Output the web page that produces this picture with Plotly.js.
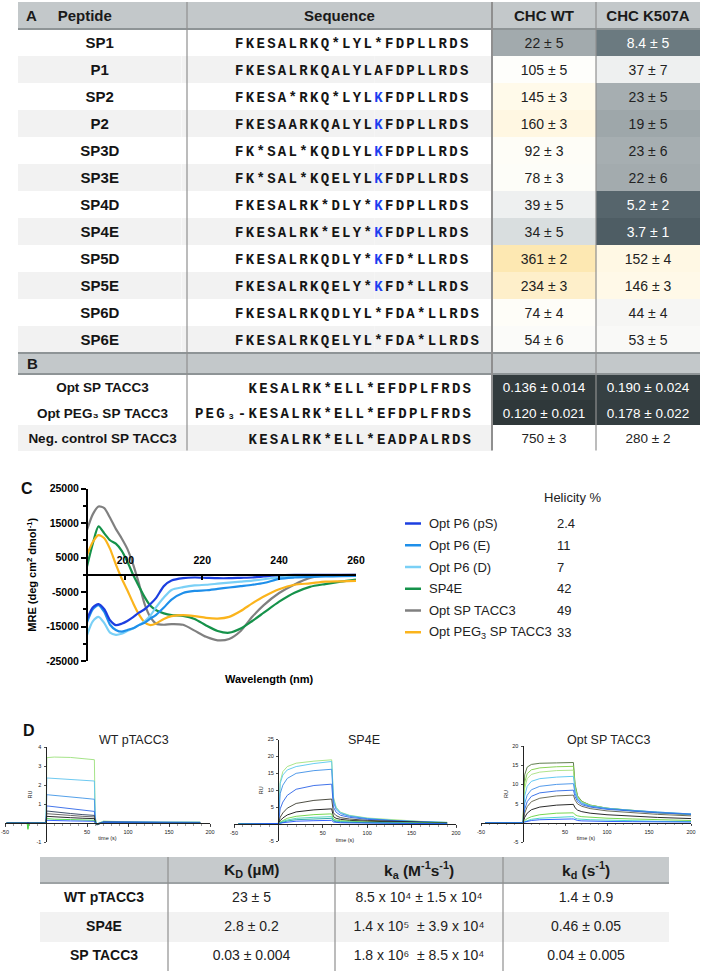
<!DOCTYPE html>
<html>
<head>
<meta charset="utf-8">
<script src="https://cdn.plot.ly/plotly-3.0.1.min.js"></script>
<style>
  html, body { margin:0; padding:0; background:#ffffff; }
  #chart { width:702px; height:975px; }
  text[style*="Mono"] { letter-spacing: 2.306px; }
</style>
</head>
<body>
<div id="chart"></div>
<script>
// ======================= DATA =======================
// ---- Panel A ----
const tableAHeaders = ['Peptide', 'Sequence', 'CHC WT', 'CHC K507A'];
const peptides = ['SP1','P1','SP2','P2','SP3D','SP3E','SP4D','SP4E','SP5D','SP5E','SP6D','SP6E'];
// [K] marks the residue printed in blue
const sequences = [
  'FKESALRKQ*LYL*FDPLLRDS',
  'FKESALRKQALYLAFDPLLRDS',
  'FKESA*RKQ*LYL[K]FDPLLRDS',
  'FKESAARKQALYL[K]FDPLLRDS',
  'FK*SAL*KQDLYL[K]FDPLLRDS',
  'FK*SAL*KQELYL[K]FDPLLRDS',
  'FKESALRK*DLY*[K]FDPLLRDS',
  'FKESALRK*ELY*[K]FDPLLRDS',
  'FKESALRKQDLY*[K]FD*LLRDS',
  'FKESALRKQELY*[K]FD*LLRDS',
  'FKESALRKQDLYL*FDA*LLRDS',
  'FKESALRKQELYL*FDA*LLRDS'
];
const wtMean   = [22, 105, 145, 160, 92, 78, 39, 34, 361, 234, 74, 54];
const wtSD     = [5, 5, 3, 3, 3, 3, 5, 5, 2, 3, 4, 6];
const k507Mean = [8.4, 37, 23, 19, 23, 22, 5.2, 3.7, 152, 146, 44, 53];
const k507SD   = [5, 7, 5, 5, 6, 6, 2, 1, 4, 3, 4, 5];

// ---- Panel B ----
const panelBLabel = 'B';
const optPeptides  = ['Opt SP TACC3', 'Opt PEG₃ SP TACC3', 'Neg. control SP TACC3'];
const optSequences = ['KESALRK*ELL*EFDPLFRDS', 'PEG₃-KESALRK*ELL*EFDPLFRDS', 'KESALRK*ELL*EADPALRDS'];
const optWtMean = ['0.136', '0.120', '750'];
const optWtSD   = ['0.014', '0.021', '3'];
const optKMean  = ['0.190', '0.178', '280'];
const optKSD    = ['0.024', '0.022', '2'];

// ---- Panel C (CD spectra) ----
const cdNames  = ['Opt P6 (pS)', 'Opt P6 (E)', 'Opt P6 (D)', 'SP4E', 'Opt SP TACC3', 'Opt PEG<sub>3</sub> SP TACC3'];
const helicity = ['2.4', '11', '7', '42', '49', '33'];
const wavelength = [190,191.5,193,194.5,196,197.5,199,200.5,202,203.5,205,206.5,208,210,212,215,218,221,224,227,230,233,236,240,244,248,252,256,260];
const mreOptP6pS = [-12900,-9500,-8500,-10000,-13200,-14600,-14200,-13400,-12300,-11000,-10000,-8500,-6700,-3300,-1700,-1000,-800,-900,-1000,-1000,-900,-800,-500,-100,0,0,0,0,0];
const mreOptP6E  = [-13800,-10000,-8800,-10800,-14500,-16000,-16500,-16000,-15500,-14600,-13900,-12700,-11600,-9500,-7200,-5300,-4700,-4500,-4100,-3700,-3300,-2900,-2400,-1200,-800,-600,-500,-400,-300];
const mreOptP6D  = [-17500,-13500,-12200,-14000,-16800,-17400,-17100,-16300,-15600,-14600,-13500,-11800,-9400,-6600,-4400,-3600,-3100,-2900,-2600,-2300,-2000,-1700,-1300,-700,-400,-300,-300,-300,-300];
const mreSP4E    = [2400,9000,14000,12000,10000,9000,7000,3800,0,-3300,-6500,-9000,-10300,-11200,-11700,-11900,-12800,-14700,-16300,-16800,-15600,-13400,-11000,-7800,-5200,-3500,-2700,-2000,-1400];
const mreOptSP   = [13000,17500,19800,19300,16500,13300,10600,7500,3000,-2500,-8500,-12300,-14200,-14500,-14300,-14500,-16200,-18000,-19000,-18600,-16300,-12200,-8800,-5300,-2800,-900,-200,-100,0];
const mreOptPEG  = [5700,9500,11500,10600,7500,3000,-1000,-4500,-8200,-11500,-13800,-14600,-14100,-12800,-12000,-11700,-12000,-12500,-12700,-12200,-10500,-8300,-6300,-4200,-2900,-2500,-2000,-1900,-1800];

// ---- Panel D (SPR sensorgrams, RU vs time s) ----
const sprTitles = ['WT pTACC3', 'SP4E', 'Opt SP TACC3'];
const timeWT = [-48,-23,-22,-21,-1,0,1,10,30,45,59,60,62,70,100,140,188];
const ruWT = [
  [0,0,-0.35,0,0,0,3.44,3.47,3.45,3.40,3.33,0.30,-0.05,0.10,0.06,0.05,0.05],
  [0,0,0,0,0,0,2.37,2.35,2.30,2.25,2.21,0.20,-0.05,0.08,0.05,0.04,0.04],
  [0,0,0,0,0,0,1.49,1.46,1.38,1.31,1.25,0.12,-0.05,0.06,0.05,0.04,0.03],
  [0,0,0,0,0,0,0.90,0.85,0.76,0.67,0.61,0.08,-0.10,0.05,0.04,0.04,0.03],
  [0,0,0,0,0,0,0.63,0.58,0.50,0.44,0.40,0.05,-0.10,0.04,0.03,0.03,0.02],
  [0,0,0,0,0,0,0.49,0.45,0.40,0.35,0.32,0.04,-0.08,0.03,0.03,0.02,0.02],
  [0,0,0,0,0,0,0.35,0.32,0.28,0.25,0.23,0.03,-0.06,0.03,0.02,0.02,0.02],
  [0,0,-0.30,0,0,0,0.23,0.20,0.18,0.16,0.14,0.02,-0.05,0.02,0.02,0.02,0.01],
  [0,0,0,0,0,0,0.14,0.12,0.11,0.10,0.09,0.01,-0.04,0.02,0.01,0.01,0.01]
];
const timeSP4E = [-45,-2,0,2,5,10,20,40,58,60,62,65,70,80,100,130,160,190];
const ruSP4E = [
  [0,0,0,12.5,15.5,17.0,18.0,18.6,19.0,19.0,8.0,5.0,3.5,2.6,1.8,1.2,0.8,0.5],
  [0,0,0,12.0,14.5,16.0,17.0,17.9,18.5,18.5,7.5,4.8,3.4,2.5,1.7,1.1,0.75,0.5],
  [0,0,0,9.0,11.5,13.5,15.0,15.8,16.2,16.2,6.5,4.3,3.1,2.3,1.6,1.0,0.7,0.45],
  [0,0,0,4.5,6.5,8.5,10.3,11.4,11.8,11.8,5.0,3.5,2.6,2.0,1.4,0.9,0.6,0.4],
  [0,0,0,2.0,3.3,4.7,6.1,7.0,7.4,7.4,3.3,2.5,1.9,1.5,1.1,0.8,0.55,0.35],
  [0,0,0,1.0,1.8,2.7,3.6,4.2,4.5,4.5,2.2,1.7,1.4,1.1,0.85,0.6,0.45,0.3],
  [0,0,0,0.6,1.1,1.7,2.3,2.8,3.0,3.0,1.5,1.2,1.0,0.8,0.6,0.45,0.35,0.25],
  [0,0,0,0.4,0.8,1.2,1.7,2.0,2.2,2.2,1.1,0.9,0.75,0.6,0.45,0.35,0.25,0.2],
  [0,0,0,0.3,0.6,0.9,1.3,1.6,1.7,1.7,0.9,0.7,0.6,0.5,0.4,0.3,0.2,0.15],
  [0,0,0,0.2,0.4,0.6,0.85,1.0,1.1,1.1,0.6,0.5,0.4,0.35,0.3,0.2,0.15,0.1]
];
const timeOpt = [-45,-2,0,2,5,10,20,40,58,60,62,65,70,80,100,130,160,200];
const ruOpt = [
  [0,0,0,12.5,14.5,15.2,15.5,15.6,15.7,15.7,10.0,7.0,5.6,4.6,3.8,3.1,2.6,2.1],
  [0,0,0,10.5,12.8,13.8,14.3,14.6,14.7,14.7,9.5,6.8,5.5,4.6,3.8,3.2,2.7,2.2],
  [0,0,0,9.0,11.5,12.6,13.2,13.6,13.7,13.7,9.0,6.6,5.4,4.5,3.8,3.2,2.7,2.2],
  [0,0,0,7.0,9.5,10.8,11.5,11.9,12.1,12.1,8.3,6.3,5.2,4.4,3.8,3.2,2.8,2.3],
  [0,0,0,5.0,7.2,8.6,9.5,10.0,10.2,10.2,7.6,6.0,5.0,4.3,3.7,3.2,2.8,2.3],
  [0,0,0,3.5,5.5,6.9,7.8,8.3,8.5,8.5,6.8,5.5,4.7,4.1,3.5,3.0,2.6,2.2],
  [0,0,0,2.5,4.2,5.5,6.4,7.0,7.2,7.2,5.9,4.9,4.3,3.7,3.1,2.6,2.2,1.8],
  [0,0,0,1.4,2.5,3.4,4.1,4.6,4.8,4.8,3.9,3.3,2.9,2.5,2.1,1.7,1.4,1.1],
  [0,0,0,0.6,1.1,1.6,2.1,2.5,2.6,2.6,2.1,1.8,1.6,1.4,1.2,1.0,0.8,0.6],
  [0,0,0,0.3,0.6,0.9,1.2,1.5,1.6,1.6,1.2,1.0,0.9,0.8,0.7,0.5,0.4,0.3],
  [0,0,0,0.2,0.4,0.6,0.8,1.0,1.0,1.0,0.8,0.6,0.5,0.4,0.35,0.3,0.25,0.2]
];

// ---- Kinetics table ----
const kinHeaders = ['K<sub>D</sub> (µM)', 'k<sub>a</sub> (M<sup>-1</sup>s<sup>-1</sup>)', 'k<sub>d</sub> (s<sup>-1</sup>)'];
const sprPeptides = ['WT pTACC3', 'SP4E', 'SP TACC3'];
const kdMean   = ['23', '2.8', '0.03'];
const kdSD     = ['5', '0.2', '0.004'];
const kaMean   = ['8.5 x 10⁴', '1.4 x 10⁵ ', '1.8 x 10⁶ '];
const kaSD     = ['1.5 x 10⁴', '3.9 x 10⁴', '8.5 x 10⁴'];
const koffMean = ['1.4', '0.46', '0.04'];
const koffSD   = ['0.9', '0.05', '0.005'];

// ======================= STYLE =======================
const W = 702, H = 975;
const px = v => v / W;
const py = v => 1 - v / H;
const SANS = 'Liberation Sans, Arial, sans-serif';
const MONO = 'Liberation Mono, Courier New, monospace';
const HEAD_FILL = '#c3c8ca';
const KHEAD_FILL = '#c6cacc';
const STRIPE = ['#ffffff', '#f2f2f2'];
const RULE = '#8e9496';
const SEP = '#8f8f8f';
const INK = '#151515';
const VAL_INK = '#222';
const BLUE_K = '#1d3ef0';
const wtFill   = ['#a2aaad','#fefefb','#fffaea','#fff7e2','#fefdf7','#fdfdf8','#eef0f0','#d9dedf','#fde8b2','#feefca','#fefdf8','#fbfbf9'];
const k507Fill = ['#6b7a80','#eef0f0','#a6aeb1','#9ea7aa','#a6aeb1','#a3abae','#56656c','#4e5d64','#fff8e4','#fff9e8','#f6f6f4','#f9f9f7'];
const k507Text = ['#ffffff',VAL_INK,VAL_INK,VAL_INK,VAL_INK,VAL_INK,'#ffffff','#ffffff',VAL_INK,VAL_INK,VAL_INK,VAL_INK];
const optWtFill = ['#333c3e', '#2f383a', '#ffffff'];
const optKFill  = ['#364043', '#343e41', '#ffffff'];
const optValText = ['#ffffff', '#ffffff', VAL_INK];
const optStripe = ['#ffffff', '#ffffff', '#f2f2f2'];
const cdColors = ['#1c3fe0', '#1e8fea', '#7ad0f6', '#15924a', '#808080', '#fbb41c'];
const cdOrder = [4, 3, 5, 2, 1, 0];
const wtColors   = ['#9be07a','#5ec3ee','#3f95e6','#2f66e8','#2b3d5e','#5a5a5a','#141414','#3ed43e','#1f52ff'];
const sp4eColors = ['#a3e27c','#56c7ee','#3d8fe6','#2d63e6','#3b3b2f','#101010','#6ad43e','#42d1b5','#21a0a0','#1f52ff'];
const optColors  = ['#4f6f3a','#7fcf45','#a7e07f','#52c3f0','#3f8fe8','#2a68e6','#5e5e48','#141414','#66d23c','#39cfc4','#1f52ff'];

// geometry (px)
const A_TOP = 2, A_HEAD = 27, A_ROW = 27;
const A_BODY = A_TOP + A_HEAD;                           // 29
const B_TOP = A_BODY + A_ROW * peptides.length;          // 353
const B_HEAD = 21, B_ROW = 25.5;
const B_BODY = B_TOP + B_HEAD;                           // 374
const T_LEFT = 18, T_RIGHT = 700, T_COLS = [169, 305, 104, 104];
const K_TOP = 857, K_HEAD = 26, K_ROW = 29.3, K_LEFT = 40, K_RIGHT = 669, K_COLS = [128, 167, 168, 166];
// sequence column of table A split in three monospace sub-columns so the 14th residue can be coloured
const SEQ_SPLIT = 13, SEQ_LEAD = 5, SEQ_TAIL = 10;
const SEQ_B = 181.5;                                      // left edge of the sequence text block
const SEQ_PITCH = (T_LEFT + T_COLS[0] + T_COLS[1] - SEQ_B) / (SEQ_LEAD + SEQ_SPLIT + 1 + SEQ_TAIL);
const A_COLS = [SEQ_B - T_LEFT, SEQ_PITCH * (SEQ_LEAD + SEQ_SPLIT), SEQ_PITCH, SEQ_PITCH * SEQ_TAIL, T_COLS[2], T_COLS[3]];

const NBSP = '\u00a0';
const nb = s => String(s).replace(/ /g, NBSP);
const pm = (m, s) => nb(m + ' ± ' + s);
const same = (arr, v) => arr.map(() => v);

// build a table trace whose first data row is carried by the table header (no empty header cells)
function rowsTable(o) {
  const first = a => a.map(c => c[0]);
  const rest = a => a.map(c => c.slice(1));
  const font = (colors) => ({ family: o.family, size: o.size, weight: o.weight, color: colors });
  return {
    type: 'table',
    domain: { x: [px(o.x0), px(o.x1)], y: [py(o.top + o.rowH * o.values[0].length + 6), py(o.top)] },
    columnwidth: o.widths,
    header: { values: first(o.values), align: o.align, height: o.rowH, fill: { color: first(o.fills) },
              line: { width: 0, color: '#ffffff' }, font: font(first(o.colors)) },
    cells:  { values: rest(o.values), align: o.align, height: o.rowH, fill: { color: rest(o.fills) },
              line: { width: 0, color: '#ffffff' }, font: font(rest(o.colors)) }
  };
}

// ======================= TRACES =======================
const traces = [];

// Table A header row
traces.push({
  type: 'table',
  domain: { x: [px(T_LEFT), px(T_RIGHT)], y: [py(A_TOP + A_HEAD + 4), py(A_TOP)] },
  columnwidth: T_COLS,
  header: {
    values: ['A' + NBSP.repeat(5) + nb(tableAHeaders[0]), nb(tableAHeaders[1]), nb(tableAHeaders[2]), nb(tableAHeaders[3])],
    align: ['left', 'center', 'center', 'center'],
    height: A_HEAD,
    fill: { color: HEAD_FILL },
    line: { width: 0, color: HEAD_FILL },
    font: { family: SANS, size: 15, weight: 'bold', color: '#1a1a1a' }
  },
  cells: { values: [[], [], [], []] }
});

// Table A body
const seqFlat = sequences.map(s => s.replace('[K]', 'K'));
const blueRow = sequences.map(s => s.indexOf('[K]') >= 0);
const seqPre = seqFlat.map(s => NBSP.repeat(SEQ_LEAD) + s.slice(0, SEQ_SPLIT));
const seqMid = seqFlat.map(s => s.charAt(SEQ_SPLIT));
const seqPost = seqFlat.map(s => { const t = s.slice(SEQ_SPLIT + 1); return t + NBSP.repeat(Math.max(0, SEQ_TAIL - t.length)); });
const stripeA = peptides.map((_, i) => STRIPE[i % 2]);
traces.push(rowsTable({
  x0: T_LEFT, x1: T_RIGHT, top: A_BODY, rowH: A_ROW, widths: A_COLS,
  values: [peptides.map(nb), seqPre, seqMid, seqPost,
           wtMean.map((m, i) => pm(m, wtSD[i])), k507Mean.map((m, i) => pm(m, k507SD[i]))],
  fills: [stripeA, stripeA, stripeA, stripeA, wtFill, k507Fill],
  colors: [same(peptides, INK), same(peptides, INK), blueRow.map(b => b ? BLUE_K : INK), same(peptides, INK),
           same(peptides, VAL_INK), k507Text],
  family: [SANS, MONO, MONO, MONO, SANS, SANS],
  size: [15, 14, 14, 14, 14, 14],
  weight: ['bold', 'bold', 'bold', 'bold', 'normal', 'normal'],
  align: ['center', 'center', 'center', 'center', 'center', 'center']
}));

// Table B body
traces.push(rowsTable({
  x0: T_LEFT, x1: T_RIGHT, top: B_BODY, rowH: B_ROW, widths: T_COLS,
  values: [optPeptides.map(nb), optSequences.map(s => s + NBSP),
           optWtMean.map((m, i) => pm(m, optWtSD[i])), optKMean.map((m, i) => pm(m, optKSD[i]))],
  fills: [optStripe, optStripe, optWtFill, optKFill],
  colors: [same(optPeptides, INK), same(optPeptides, INK), optValText, optValText],
  family: [SANS, MONO, SANS, SANS],
  size: [13.5, 14, 13.5, 13.5],
  weight: ['bold', 'bold', 'normal', 'normal'],
  align: ['center', 'right', 'center', 'center']
}));

// Kinetics table body
const stripeK = sprPeptides.map((_, i) => STRIPE[i % 2]);
traces.push(rowsTable({
  x0: K_LEFT, x1: K_RIGHT, top: K_TOP + K_HEAD, rowH: K_ROW, widths: K_COLS,
  values: [sprPeptides.map(nb), kdMean.map((m, i) => pm(m, kdSD[i])), kaMean.map((m, i) => pm(m, kaSD[i])), koffMean.map((m, i) => pm(m, koffSD[i]))],
  fills: [stripeK, stripeK, stripeK, stripeK],
  colors: [same(sprPeptides, INK), same(sprPeptides, VAL_INK), same(sprPeptides, VAL_INK), same(sprPeptides, VAL_INK)],
  family: [SANS, SANS, SANS, SANS],
  size: [14, 14, 14, 14],
  weight: ['bold', 'normal', 'normal', 'normal'],
  align: ['center', 'center', 'center', 'center']
}));

// Panel C curves
const cdSeries = [mreOptP6pS, mreOptP6E, mreOptP6D, mreSP4E, mreOptSP, mreOptPEG];
cdOrder.forEach(k => {
  traces.push({
    type: 'scatter', mode: 'lines', x: wavelength, y: cdSeries[k], name: cdNames[k],
    xaxis: 'x', yaxis: 'y',
    line: { color: cdColors[k], width: 2.2, shape: 'spline', smoothing: 0.7 },
    hoverinfo: 'skip'
  });
});

// Panel D curves
function addSpr(t, curves, colors, ax) {
  curves.forEach((c, i) => traces.push({
    type: 'scatter', mode: 'lines', x: t, y: c, xaxis: 'x' + ax, yaxis: 'y' + ax,
    line: { color: colors[i], width: 0.9 }, hoverinfo: 'skip'
  }));
}
addSpr(timeWT, ruWT, wtColors, 2);
addSpr(timeSP4E, ruSP4E, sp4eColors, 3);
addSpr(timeOpt, ruOpt, optColors, 4);

// ======================= AXES =======================
const C_X0 = 87, C_X1 = 356, C_Y0 = 488.5, C_Y1 = 661;
const cYdom = [py(C_Y1), py(C_Y0)];
const cYr = [-25000, 25000];
const zeroFrac = (dom, r) => dom[0] + (0 - r[0]) / (r[1] - r[0]) * (dom[1] - dom[0]);

const tickFontC = { family: SANS, size: 10.5, weight: 'bold', color: '#000' };
const layout = {
  width: W, height: H,
  margin: { l: 0, r: 0, t: 0, b: 0 },
  paper_bgcolor: '#ffffff', plot_bgcolor: 'rgba(0,0,0,0)',
  showlegend: false,
  font: { family: SANS, color: '#111' },
  xaxis: {
    domain: [px(C_X0), px(C_X1)], range: [190, 260], anchor: 'free', position: zeroFrac(cYdom, cYr),
    side: 'top', showline: true, linecolor: '#000', linewidth: 2, showgrid: false, zeroline: false,
    ticks: 'inside', ticklen: 4, tickwidth: 2, tickcolor: '#000',
    tickvals: [200, 220, 240, 260], tickfont: tickFontC, ticklabelstandoff: 6
  },
  yaxis: {
    domain: cYdom, range: cYr, anchor: 'free', position: px(C_X0),
    showline: true, linecolor: '#000', linewidth: 2, showgrid: false, zeroline: false,
    ticks: 'outside', ticklen: 5, tickwidth: 2, tickcolor: '#000',
    tickvals: [25000, 15000, 5000, -5000, -15000, -25000],
    ticktext: ['25000', '15000', '5000', '-5000', '-15000', '-25000'],
    minor: { tickvals: [20000, 10000, 0, -10000, -20000], ticks: 'outside', ticklen: 3, tickwidth: 2, tickcolor: '#000' },
    tickfont: tickFontC,
    title: { text: 'MRE (deg cm<sup>2</sup> dmol<sup>-1</sup>)', font: { family: SANS, size: 11, weight: 'bold', color: '#000' }, standoff: 6 }
  }
};

function sprAxes(n, x0, x1, y0, y1, yr, yt) {
  const xr = [-50, 200];
  const xdom = [px(x0), px(x1)], ydom = [py(y1), py(y0)];
  const f = { family: SANS, size: 5.5, color: '#222' };
  layout['xaxis' + n] = {
    domain: xdom, range: xr, anchor: 'free', position: zeroFrac(ydom, yr),
    showline: true, linecolor: '#222', linewidth: 1, showgrid: false, zeroline: false,
    ticks: 'outside', ticklen: 2.5, tickwidth: 0.8, tickcolor: '#222',
    tickvals: [-50, 50, 100, 150, 200], ticktext: ['-50', '50', '100', '150', '200'],
    minor: { tickmode: 'linear', tick0: 0, dtick: 10, ticks: 'outside', ticklen: 1.5, tickwidth: 0.5, tickcolor: '#444' },
    tickfont: f, ticklabelstandoff: 1,
    title: { text: 'time (s)', font: f, standoff: 2 }
  };
  layout['yaxis' + n] = {
    domain: ydom, range: yr, anchor: 'free', position: zeroFrac(xdom, xr),
    showline: true, linecolor: '#222', linewidth: 1, showgrid: false, zeroline: false,
    ticks: 'outside', ticklen: 2.5, tickwidth: 0.8, tickcolor: '#222',
    tickvals: yt, ticktext: yt.map(String),
    tickfont: f, ticklabelstandoff: 1,
    title: { text: 'RU', font: f, standoff: 2 }
  };
}
sprAxes(2, 5, 210, 747, 842, [-1, 4], [-1, 1, 2, 3, 4]);
sprAxes(3, 234, 456, 739.5, 841, [-5, 25], [-5, 5, 10, 15, 20, 25]);
sprAxes(4, 481, 691, 746, 842, [-5, 20], [-5, 5, 10, 15, 20]);

// ======================= ANNOTATIONS / SHAPES =======================
const ann = [];
const shapes = [];
const txt = (x, y, text, font, xa, ya) => ann.push({
  xref: 'paper', yref: 'paper', x: px(x), y: py(y), text: text, showarrow: false,
  xanchor: xa || 'center', yanchor: ya || 'middle', borderpad: 0, font: font
});
// filled rectangles in the top shape layer (drawn over the table traces)
const rect = (x0, y0, x1, y1, color) => shapes.push({
  type: 'rect', xref: 'paper', yref: 'paper', layer: 'above',
  x0: px(x0), x1: px(x1), y0: py(y1), y1: py(y0),
  fillcolor: color, line: { width: 0 }
});

// B band
rect(T_LEFT, B_TOP, T_RIGHT, B_BODY, HEAD_FILL);
txt(T_LEFT + 8, B_TOP + B_HEAD / 2, panelBLabel, { family: SANS, size: 15, weight: 'bold', color: '#1a1a1a' }, 'left');

// table rules A/B
rect(T_LEFT, A_BODY - 1, T_RIGHT, A_BODY + 1, RULE);
rect(T_LEFT, B_TOP - 1, T_RIGHT, B_TOP + 1, RULE);
rect(T_LEFT, B_BODY - 1, T_RIGHT, B_BODY + 1, RULE);
const tableBottom = B_BODY + B_ROW * optPeptides.length;
let cx = T_LEFT;
T_COLS.slice(0, 3).forEach((w, i) => {
  cx += w;
  const lw = i === 1 ? 2 : 1.2;
  rect(cx - lw / 2, A_TOP, cx + lw / 2, tableBottom, SEP);
});

// kinetics header band, titles and rules
rect(K_LEFT, K_TOP, K_RIGHT, K_TOP + K_HEAD, KHEAD_FILL);
let kx = K_LEFT + K_COLS[0];
K_COLS.slice(1).forEach((w, i) => {
  txt(kx + w / 2, K_TOP + K_HEAD / 2, kinHeaders[i], { family: SANS, size: 15.5, weight: 'bold', color: '#1a1a1a' });
  kx += w;
});
rect(K_LEFT, K_TOP + K_HEAD - 1, K_RIGHT, K_TOP + K_HEAD + 1, '#9da2a4');
kx = K_LEFT;
K_COLS.slice(0, 3).forEach(w => {
  kx += w;
  rect(kx - 0.6, K_TOP, kx + 0.6, K_TOP + K_HEAD + K_ROW * sprPeptides.length, SEP);
});

// panel labels
const panelFont = { family: SANS, size: 16, weight: 'bold', color: '#111' };
txt(27, 489, 'C', panelFont);
txt(29, 730, 'D', panelFont);

// panel C extras
txt(269, 679, 'Wavelength (nm)', { family: SANS, size: 11, weight: 'bold', color: '#000' });
txt(543, 497, 'Helicity %', { family: SANS, size: 13, color: '#222' }, 'left');
cdNames.forEach((n, i) => {
  const yy = 523.5 + 21.75 * i;
  txt(428, yy, n, { family: SANS, size: 13, color: '#222' }, 'left');
  txt(556, yy, helicity[i], { family: SANS, size: 13, color: '#222' }, 'left');
  shapes.push({ type: 'line', xref: 'paper', yref: 'paper', x0: px(405), x1: px(421), y0: py(yy), y1: py(yy), line: { color: cdColors[i], width: 2.5 } });
});

// panel D titles
const dTitleFont = { family: SANS, size: 12.5, color: '#222' };
txt(134, 740, sprTitles[0], dTitleFont);
txt(364, 740, sprTitles[1], dTitleFont);
txt(608, 740, sprTitles[2], dTitleFont);

layout.annotations = ann;
layout.shapes = shapes;

Plotly.newPlot('chart', traces, layout, { staticPlot: true, displayModeBar: false });
</script>
</body>
</html>
